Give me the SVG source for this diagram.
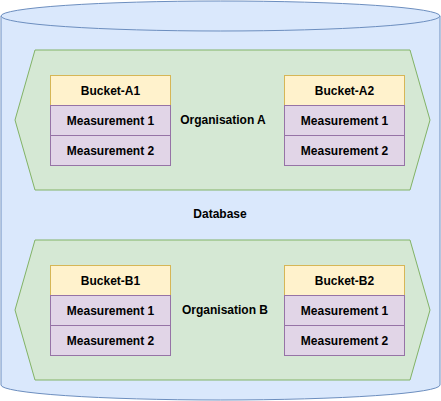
<svg xmlns="http://www.w3.org/2000/svg" width="441" height="401" viewBox="0 0 441 401">
<style>
text{font-family:"Liberation Sans",Arial,sans-serif;font-size:12px;font-weight:bold;fill:#000;text-anchor:middle}
.db{fill:#dae8fc;stroke:#6c8ebf;stroke-width:1}
.org{fill:#d5e8d4;stroke:#82b366;stroke-width:1}
.bk{fill:#fff2cc;stroke:#d6b656;stroke-width:1}
.ms{fill:#e1d5e7;stroke:#9673a6;stroke-width:1}
</style>
<rect width="441" height="401" fill="#fff"/>
<g id="database">
<path class="db" d="M1,16 A219.5,15 0 0 1 440,16 L440,385 A219.5,15 0 0 1 1,385 Z"/>
<path class="db" fill="none" d="M1,16 A219.5,15 0 0 0 440,16"/>
<text x="220" y="218">Database</text>
</g>
<g id="orgA">
<polygon class="org" points="35,50 410,50 430,120 410,190 35,190 15,120"/>
<text x="223" y="124">Organisation A</text>
</g>
<g id="orgB">
<polygon class="org" points="35,240 410,240 430,310 410,380 35,380 15,310"/>
<text x="225" y="314">Organisation B</text>
</g>
<g id="bucketA1">
<rect class="bk" x="50.5" y="75.5" width="120" height="30"/><text x="110.5" y="94.5">Bucket-A1</text>
<rect class="ms" x="50.5" y="105.5" width="120" height="30"/><text x="110.5" y="124.5">Measurement 1</text>
<rect class="ms" x="50.5" y="135.5" width="120" height="30"/><text x="110.5" y="154.5">Measurement 2</text>
</g>
<g id="bucketA2">
<rect class="bk" x="284.5" y="75.5" width="120" height="30"/><text x="344.5" y="94.5">Bucket-A2</text>
<rect class="ms" x="284.5" y="105.5" width="120" height="30"/><text x="344.5" y="124.5">Measurement 1</text>
<rect class="ms" x="284.5" y="135.5" width="120" height="30"/><text x="344.5" y="154.5">Measurement 2</text>
</g>
<g id="bucketB1">
<rect class="bk" x="50.5" y="265.5" width="120" height="30"/><text x="110.5" y="284.5">Bucket-B1</text>
<rect class="ms" x="50.5" y="295.5" width="120" height="30"/><text x="110.5" y="314.5">Measurement 1</text>
<rect class="ms" x="50.5" y="325.5" width="120" height="30"/><text x="110.5" y="344.5">Measurement 2</text>
</g>
<g id="bucketB2">
<rect class="bk" x="284.5" y="265.5" width="120" height="30"/><text x="344.5" y="284.5">Bucket-B2</text>
<rect class="ms" x="284.5" y="295.5" width="120" height="30"/><text x="344.5" y="314.5">Measurement 1</text>
<rect class="ms" x="284.5" y="325.5" width="120" height="30"/><text x="344.5" y="344.5">Measurement 2</text>
</g>
<g id="connectors"/>
</svg>
